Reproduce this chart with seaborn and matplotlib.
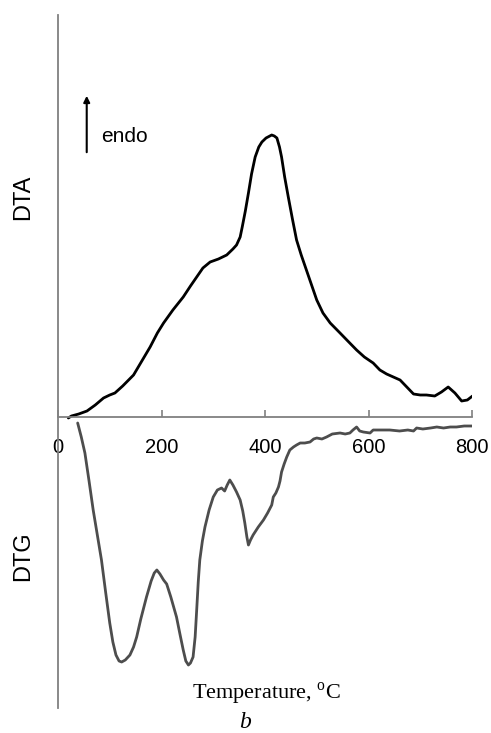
import matplotlib
matplotlib.use("Agg")
import matplotlib.pyplot as plt
import seaborn as sns
import pandas as pd
import numpy as np

# ---- data ----
dta_T = [20, 26, 40, 56, 72, 88, 100, 110, 125, 146, 162, 178, 192, 204, 222, 242, 256, 268,
         280, 294, 310, 326, 338, 345, 352, 356, 362, 368, 374, 381, 388, 394, 402, 413, 418,
         423, 428, 432, 438, 445, 453, 461, 470, 480, 490, 500, 512, 526, 545, 560, 577, 592,
         609, 622, 635, 648, 661, 674, 687, 700, 712, 728, 741, 754, 767, 780, 791, 801]
dta_v = [-1, 1, 3, 6, 12, 19, 22, 24, 31, 42, 56, 70, 84, 94, 107, 120, 131, 140,
         149, 155, 158, 162, 168, 172, 180, 190, 206, 224, 243, 260, 270, 275, 279, 282, 281,
         279, 270, 260, 240, 220, 198, 177, 162, 147, 132, 117, 104, 94, 84, 76, 67, 60,
         54, 47, 43, 40, 37, 30, 23, 22, 22, 21, 25, 30, 24, 16, 17, 21]

dtg_T = [38, 45, 52, 60, 68, 76, 84, 92, 100, 106, 112, 118, 123, 130, 139, 146, 152, 160,
         171, 180, 186, 191, 197, 204, 210, 218, 229, 236, 242, 247, 252, 256, 261, 265, 268,
         271, 274, 279, 284, 292, 300, 308, 316, 322, 327, 332, 338, 345, 352, 357, 361, 365,
         368, 372, 377, 387, 397, 405, 413, 416, 421, 426, 429, 432, 437, 442, 448, 455, 461,
         468, 477, 487, 494, 500, 510, 519, 530, 545, 555, 564, 570, 577, 583, 590, 603, 609,
         625, 641, 660, 676, 687, 693, 705, 720, 732, 745, 758, 770, 785, 802]
dtg_v = [-6, -20, -36, -64, -93, -118, -143, -175, -206, -225, -238, -244, -245, -243, -238, -230, -220, -202,
         -180, -164, -156, -153, -157, -163, -167, -180, -200, -218, -233, -244, -248, -246, -240, -220, -193,
         -165, -143, -124, -110, -93, -80, -73, -71, -74, -68, -63, -68, -75, -83, -94, -106, -120,
         -128, -123, -118, -110, -103, -96, -88, -80, -76, -70, -64, -55, -47, -40, -33, -30, -28,
         -26, -26, -25, -22, -21, -22, -20, -17, -16, -17, -16, -13, -10, -14, -15, -16, -13,
         -13, -13, -14, -13, -14, -11, -12, -11, -10, -11, -10, -10, -9, -9]

xticks = [0, 200, 400, 600, 800]

# ---- figure ----
sns.set_style("white")
plt.rcParams['font.family'] = ['Liberation Sans', 'DejaVu Sans']
plt.rcParams['text.color'] = 'black'
plt.rcParams['xtick.labelcolor'] = 'black'
plt.rcParams['mathtext.fontset'] = 'custom'
plt.rcParams['mathtext.rm'] = 'Liberation Serif'

W, H = 491, 733
fig = plt.figure(figsize=(W / 100, H / 100), dpi=100)
ax = fig.add_axes([58 / W, 1 - 708 / H, (472 - 58) / W, (708 - 15) / H])

df_dta = pd.DataFrame({"T": dta_T, "v": dta_v})
df_dtg = pd.DataFrame({"T": dtg_T, "v": dtg_v})
sns.lineplot(data=df_dta, x="T", y="v", ax=ax, color="black", linewidth=2.0, sort=False)
sns.lineplot(data=df_dtg, x="T", y="v", ax=ax, color="#4d4d4d", linewidth=2.0, sort=False)

ax.set_xlim(0, 800)
ax.set_ylim(-291, 402)
ax.set_xlabel("")
ax.set_ylabel("")
ax.set_yticks([])
ax.set_xticks(xticks)
ax.set_xticklabels([str(t) for t in xticks])

for s in ["top", "right"]:
    ax.spines[s].set_visible(False)
ax.spines["bottom"].set_position(("data", 0))
for s in ["left", "bottom"]:
    ax.spines[s].set_color("#808080")
    ax.spines[s].set_linewidth(1.3)
ax.tick_params(axis="x", direction="in", length=5, width=1.2, color="#808080",
               labelcolor="black", labelsize=14.5, pad=15, bottom=True)

# endo arrow
ax.annotate("", xy=(55.5, 324), xytext=(55.5, 262),
            arrowprops=dict(arrowstyle="-|>", color="black", lw=1.5, mutation_scale=9))
ax.text(83, 280, "endo", fontsize=15, va="center", ha="left", color="black")

fig.text(23.5 / W, 1 - 197 / H, "DTA", rotation=90, ha="center", va="center", fontsize=17)
fig.text(23.5 / W, 1 - 556 / H, "DTG", rotation=90, ha="center", va="center", fontsize=17)
fig.text(266 / W, 1 - 694 / H, "Temperature, $^{\\mathrm{o}}$C", ha="center", va="center",
         fontsize=16, family="Liberation Serif")
fig.text(245 / W, 1 - 722 / H, "b", ha="center", va="center", fontsize=17,
         family="Liberation Serif", style="italic")

fig.savefig("out.png", dpi=100)
